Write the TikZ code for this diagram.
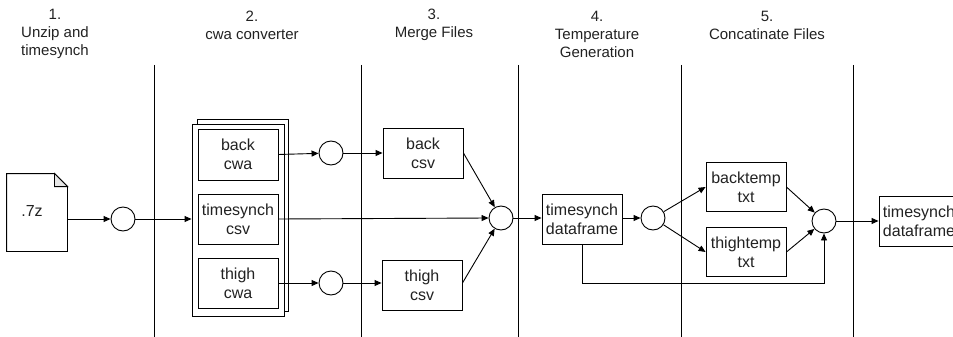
\documentclass[tikz,border=0pt]{standalone}
\usepackage{fontspec}
\setmainfont{Liberation Sans}
\usetikzlibrary{arrows.meta,calc}
\definecolor{txt}{HTML}{222222}
\definecolor{fold}{HTML}{E6E6E6}
\begin{document}
\begin{tikzpicture}[x=1pt,y=-1pt,line width=0.9pt,
  box/.style={draw, rectangle, minimum width=80pt, minimum height=50pt, inner sep=0pt,
    align=center, font=\fontsize{16}{19}\selectfont, text=txt, fill=white},
  junc/.style={draw, circle, minimum size=24pt, inner sep=0pt, fill=white},
  head/.style={align=center, font=\fontsize{15}{18}\selectfont, text=txt, inner sep=0pt},
  arr/.style={-{Triangle[length=7pt,width=6pt]}},
  lane/.style={line width=0.9pt}]
\useasboundingbox (0,0) rectangle (953,337);

% lane separators
\foreach \lx in {154,361,518,681,853} \draw[lane] (\lx,65) -- (\lx,337);

% headers
\node[head] (h1) at (55,34) {1.\\Unzip and\\timesynch};
\node[head] (h2) at (252,25) {2.\\cwa converter};
\node[head] (h3) at (434,25) {3.\\Merge Files};
\node[head] (h4) at (597,34) {4.\\Temperature\\Generation};
\node[head] (h5) at (767,25) {5.\\Concatinate Files};

% .7z document
\node[minimum width=60pt, minimum height=77pt, inner sep=0pt] (doc) at (37,212.5) {};
\draw[fill=white] (doc.north west) -- ($(doc.north east)+(-13,0)$) -- ($(doc.north east)+(0,13)$)
  -- (doc.south east) -- (doc.south west) -- cycle;
\draw[fill=fold] ($(doc.north east)+(-13,0)$) -- ($(doc.north east)+(-13,13)$) -- ($(doc.north east)+(0,13)$) -- cycle;
\node[font=\fontsize{16}{19}\selectfont, text=txt, inner sep=0pt] (doctxt) at (32,211) {.7z};

\node[junc] (c1) at (123,219) {};

% stacked container
\node[draw, fill=white, minimum width=91pt, minimum height=192pt, inner sep=0pt] (stackback) at (242.5,215) {};
\node[draw, fill=white, minimum width=92pt, minimum height=192pt, inner sep=0pt] (stack) at (238,220) {};
\node[box, minimum height=51pt] (backcwa) at (238,154.5) {back\\cwa};
\node[box] (tscsv) at (238,219) {timesynch\\csv};
\node[box] (thighcwa) at (238,283) {thigh\\cwa};

\node[junc] (c2) at (331,153) {};
\node[junc] (c3) at (331,283) {};

\node[box] (backcsv) at (423,153) {back\\csv};
\node[box] (thighcsv) at (422,285) {thigh\\csv};

\node[junc] (cm) at (501,218) {};
\node[box] (tsdf) at (582,219) {timesynch\\dataframe};
\node[junc] (ct) at (653,218) {};

\node[box, minimum height=49pt] (backtemp) at (746,187) {backtemp\\txt};
\node[box, minimum height=49pt] (thightemp) at (746,252) {thightemp\\txt};

\node[junc] (cc) at (824,221) {};
\node[box] (final) at (919,221) {timesynch\\dataframe};

\coordinate (bend) at (824,283);

% connectors
\draw[arr] (doc.east |- c1) -- (c1);
\draw[arr] (c1) -- (stack.west |- c1);
\draw[arr] (backcwa.east) -- (c2);
\draw[arr] (c2) -- (backcsv.west);
\draw[arr] (thighcwa.east) -- (c3);
\draw[arr] (c3) -- (thighcsv.west |- c3);
\draw[arr] (backcsv.east) -- (cm);
\draw[arr] (tscsv.east) -- (cm.west);
\draw[arr] (thighcsv.east |- c3) -- (cm);
\draw[arr] (cm) -- (tsdf.west |- cm);
\draw[arr] (tsdf.east |- ct) -- (ct);
\draw[arr] (ct) -- (backtemp.west);
\draw[arr] (ct) -- (thightemp.west);
\draw[arr] (backtemp.east) -- (cc);
\draw[arr] (thightemp.east) -- (cc);
\draw[arr] (tsdf.south) |- (bend) -- (cc.south);
\draw[arr] (cc) -- (final.west |- cc);
\end{tikzpicture}
\end{document}
